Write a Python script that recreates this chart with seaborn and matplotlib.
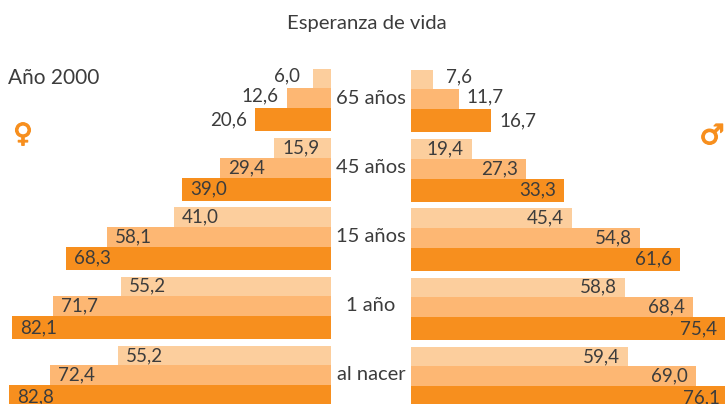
import matplotlib
matplotlib.use("Agg")
import matplotlib.pyplot as plt
import matplotlib.patheffects as pe
import matplotlib.transforms as mtrans
import pandas as pd
import seaborn as sns

categories = ["65 años", "45 años", "15 años", "1 año", "al nacer"]
series = ["a", "b", "c"]

# bar lengths as drawn in the picture (a common scale), outer list = age group
mujeres_largo = [[4.6, 11.3, 19.5], [14.6, 28.5, 38.2], [40.3, 57.4, 67.9],
                 [53.8, 71.3, 81.8], [54.6, 72.1, 82.6]]
hombres_largo = [[5.6, 12.3, 20.5], [15.6, 29.5, 39.2], [41.3, 58.7, 69.0],
                 [54.9, 72.3, 80.6], [55.6, 73.1, 81.4]]
# printed values
mujeres_txt = [["6,0", "12,6", "20,6"], ["15,9", "29,4", "39,0"], ["41,0", "58,1", "68,3"],
               ["55,2", "71,7", "82,1"], ["55,2", "72,4", "82,8"]]
hombres_txt = [["7,6", "11,7", "16,7"], ["19,4", "27,3", "33,3"], ["45,4", "54,8", "61,6"],
               ["58,8", "68,4", "75,4"], ["59,4", "69,0", "76,1"]]

TITLE = "Esperanza de vida"
YEAR = "Año 2000"
COLORS = ["#FCCE9D", "#FDB773", "#F78F1E"]
TEXT = "#3C3C3C"
W, H = 725, 404
PX_PER_UNIT = 3.9
PITCH = 69.25
BAR_PX = [19.5, 20.0, 23.0]
PT = 0.72  # points per pixel at dpi 100

sns.set_theme(style="white")
plt.rcParams["font.family"] = ["Lato", "DejaVu Sans"]


def frame(lengths):
    rows = [(c, s, v) for c, vals in zip(categories, lengths) for s, v in zip(series, vals)]
    return pd.DataFrame(rows, columns=["grupo", "serie", "largo"])


def panel(ax, lengths, texts, center_px, sign):
    sns.barplot(data=frame(lengths), y="grupo", x="largo", hue="serie", order=categories,
                hue_order=series, palette=COLORS, saturation=1, width=0.9, gap=0,
                dodge=True, orient="h", legend=False, ax=ax)
    ax.set_ylim((404 - center_px) / PITCH, (40 - center_px) / PITCH)
    for k, cont in enumerate(ax.containers):
        for g, bar in enumerate(cont.patches):
            top = g - sum(BAR_PX) / 2 / PITCH + sum(BAR_PX[:k]) / PITCH
            h = BAR_PX[k] / PITCH
            bar.set_y(top)
            bar.set_height(h)
            bar.set_linewidth(0)
            outside = g == 0
            dx = 26.5 * sign * (1 if outside else -1)
            dy = 2.5 if outside and k < 2 else 0
            ax.annotate(texts[g][k], xy=(bar.get_width(), top + h / 2),
                        xytext=(dx * PT, dy * PT), textcoords="offset points",
                        ha="center", va="center", fontsize=13.5, color=TEXT,
                        annotation_clip=False)
    ax.set_xlabel("")
    ax.set_ylabel("")
    ax.set_xticks([])
    sns.despine(ax=ax, left=True, bottom=True, top=True, right=True)


fig = plt.figure(figsize=(W / 100, H / 100), dpi=100)
fig.patch.set_facecolor("white")
ax_l = fig.add_axes([0, 0, 331 / W, (H - 40) / H])
ax_r = fig.add_axes([411 / W, 0, 314 / W, (H - 40) / H])

panel(ax_l, mujeres_largo, mujeres_txt, 100, -1)
panel(ax_r, hombres_largo, hombres_txt, 101, 1)
ax_l.set_xlim(331 / PX_PER_UNIT, 0)
ax_r.set_xlim(0, 314 / PX_PER_UNIT)
ax_l.set_yticks([])

# age groups as centred tick labels between the panels
ax_r.set_yticks(range(len(categories)), categories)
ax_r.tick_params(axis="y", length=0, pad=40 * PT, labelsize=14.5, labelcolor=TEXT)
shift = mtrans.ScaledTranslation(0, 4.5 / 100, fig.dpi_scale_trans)
for lab in ax_r.get_yticklabels():
    lab.set_ha("center")
    lab.set_transform(lab.get_transform() + shift)

fig.text(367 / W, 1 - 23.5 / H, TITLE, ha="center", va="center", fontsize=14.6, color=TEXT)
fig.text(8 / W, 1 - 78 / H, YEAR, ha="left", va="center", fontsize=15, color=TEXT)
stroke = [pe.withStroke(linewidth=0.9, foreground=COLORS[2])]
fig.text(23 / W, 1 - 135 / H, "\u2640", ha="center", va="center", fontsize=19,
         color=COLORS[2], family="DejaVu Sans", fontweight="bold", path_effects=stroke)
fig.text(712 / W, 1 - 136 / H, "\u2642", ha="center", va="center", fontsize=20,
         color=COLORS[2], family="DejaVu Sans", fontweight="bold", path_effects=stroke)

fig.savefig("out.png", dpi=100)
